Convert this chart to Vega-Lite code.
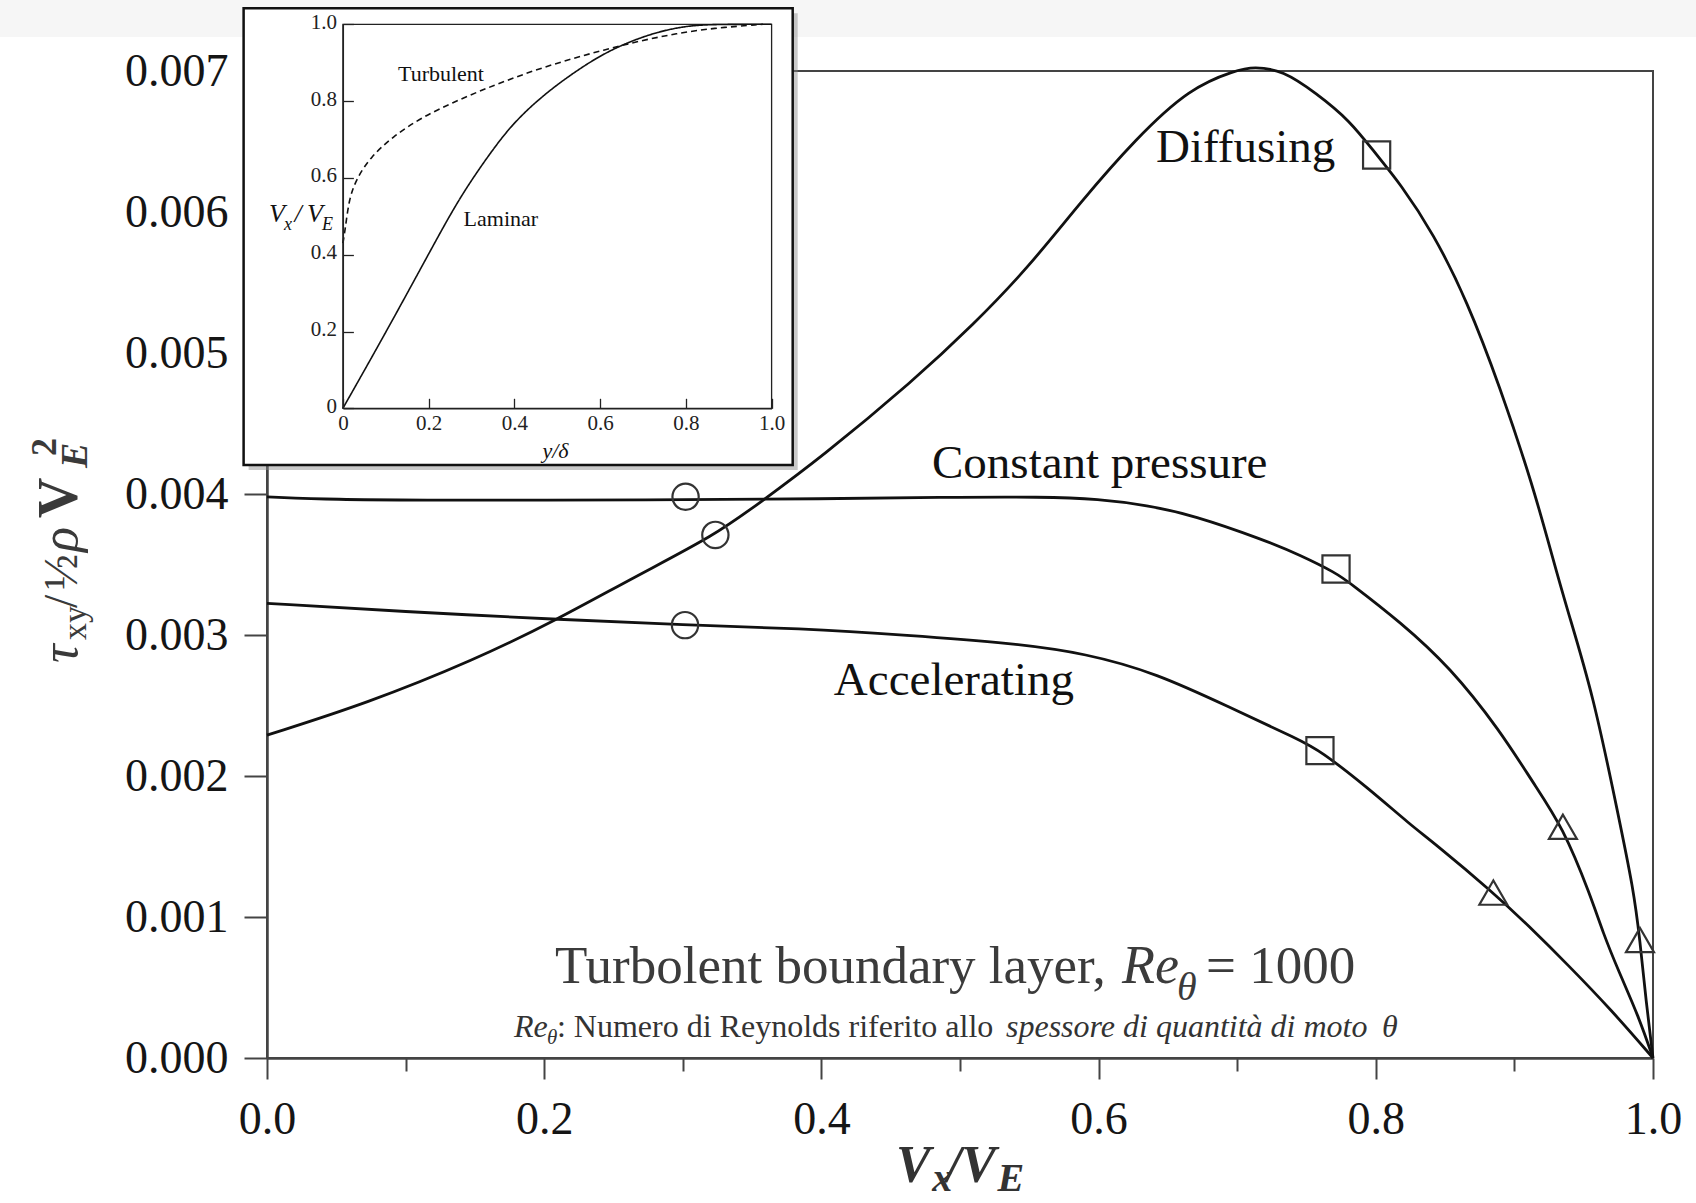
{
  "$schema": "https://vega.github.io/schema/vega-lite/v6.json",
  "width": 1386,
  "height": 987,
  "autosize": {"type": "none"},
  "padding": {"left": 267, "top": 71, "right": 43, "bottom": 145},
  "background": "white",
  "config": {
    "view": {"stroke": "#444", "strokeWidth": 2},
    "text": {"font": "Liberation Serif"},
    "axis": {"labelFont": "Liberation Serif", "grid": false, "labelFlush": false, "labelOverlap": false, "labelAngle": 0}
  },
  "datasets": {
    "curves": [
      {"s": "Constant pressure", "x": 0, "y": 0.00398},
      {"s": "Constant pressure", "x": 0.05, "y": 0.00396},
      {"s": "Constant pressure", "x": 0.111, "y": 0.003957},
      {"s": "Constant pressure", "x": 0.2, "y": 0.003955},
      {"s": "Constant pressure", "x": 0.302, "y": 0.00396},
      {"s": "Constant pressure", "x": 0.399, "y": 0.003965},
      {"s": "Constant pressure", "x": 0.4877, "y": 0.003977},
      {"s": "Constant pressure", "x": 0.56, "y": 0.00398},
      {"s": "Constant pressure", "x": 0.6, "y": 0.003965},
      {"s": "Constant pressure", "x": 0.635, "y": 0.00392},
      {"s": "Constant pressure", "x": 0.668, "y": 0.003851},
      {"s": "Constant pressure", "x": 0.7196, "y": 0.003674},
      {"s": "Constant pressure", "x": 0.7453, "y": 0.003567},
      {"s": "Constant pressure", "x": 0.7713, "y": 0.003440},
      {"s": "Constant pressure", "x": 0.7814, "y": 0.003369},
      {"s": "Constant pressure", "x": 0.8175, "y": 0.003094},
      {"s": "Constant pressure", "x": 0.8535, "y": 0.002773},
      {"s": "Constant pressure", "x": 0.8896, "y": 0.002323},
      {"s": "Constant pressure", "x": 0.9136, "y": 0.00195},
      {"s": "Constant pressure", "x": 0.935, "y": 0.001638},
      {"s": "Constant pressure", "x": 0.955, "y": 0.00115},
      {"s": "Constant pressure", "x": 0.964, "y": 0.000886},
      {"s": "Constant pressure", "x": 0.975, "y": 0.00062},
      {"s": "Constant pressure", "x": 0.9897, "y": 0.000293},
      {"s": "Constant pressure", "x": 1.0, "y": 0},
      {"s": "Accelerating", "x": 0, "y": 0.003225},
      {"s": "Accelerating", "x": 0.098, "y": 0.003166},
      {"s": "Accelerating", "x": 0.2088, "y": 0.003111},
      {"s": "Accelerating", "x": 0.3016, "y": 0.003071},
      {"s": "Accelerating", "x": 0.3846, "y": 0.003047},
      {"s": "Accelerating", "x": 0.4618, "y": 0.003},
      {"s": "Accelerating", "x": 0.539, "y": 0.002941},
      {"s": "Accelerating", "x": 0.5907, "y": 0.00287},
      {"s": "Accelerating", "x": 0.642, "y": 0.002728},
      {"s": "Accelerating", "x": 0.6938, "y": 0.002491},
      {"s": "Accelerating", "x": 0.7453, "y": 0.002255},
      {"s": "Accelerating", "x": 0.7597, "y": 0.00218},
      {"s": "Accelerating", "x": 0.7934, "y": 0.001924},
      {"s": "Accelerating", "x": 0.8254, "y": 0.00165},
      {"s": "Accelerating", "x": 0.8415, "y": 0.001530},
      {"s": "Accelerating", "x": 0.8848, "y": 0.001173},
      {"s": "Accelerating", "x": 0.91, "y": 0.00094},
      {"s": "Accelerating", "x": 0.9387, "y": 0.00066},
      {"s": "Accelerating", "x": 0.97, "y": 0.00034},
      {"s": "Accelerating", "x": 1.0, "y": 0},
      {"s": "Diffusing", "x": 0, "y": 0.00229},
      {"s": "Diffusing", "x": 0.0722, "y": 0.002516},
      {"s": "Diffusing", "x": 0.1496, "y": 0.002823},
      {"s": "Diffusing", "x": 0.2088, "y": 0.003106},
      {"s": "Diffusing", "x": 0.2655, "y": 0.003414},
      {"s": "Diffusing", "x": 0.3235, "y": 0.003709},
      {"s": "Diffusing", "x": 0.3557, "y": 0.00394},
      {"s": "Diffusing", "x": 0.399, "y": 0.004253},
      {"s": "Diffusing", "x": 0.467, "y": 0.004809},
      {"s": "Diffusing", "x": 0.5098, "y": 0.005203},
      {"s": "Diffusing", "x": 0.5488, "y": 0.005600},
      {"s": "Diffusing", "x": 0.5878, "y": 0.006080},
      {"s": "Diffusing", "x": 0.6269, "y": 0.006520},
      {"s": "Diffusing", "x": 0.6659, "y": 0.006880},
      {"s": "Diffusing", "x": 0.699, "y": 0.007005},
      {"s": "Diffusing", "x": 0.712, "y": 0.00703},
      {"s": "Diffusing", "x": 0.733, "y": 0.007005},
      {"s": "Diffusing", "x": 0.757, "y": 0.006842},
      {"s": "Diffusing", "x": 0.781, "y": 0.006652},
      {"s": "Diffusing", "x": 0.8006, "y": 0.006404},
      {"s": "Diffusing", "x": 0.8175, "y": 0.006203},
      {"s": "Diffusing", "x": 0.8415, "y": 0.005849},
      {"s": "Diffusing", "x": 0.8656, "y": 0.005376},
      {"s": "Diffusing", "x": 0.8896, "y": 0.004761},
      {"s": "Diffusing", "x": 0.9136, "y": 0.004052},
      {"s": "Diffusing", "x": 0.928, "y": 0.003532},
      {"s": "Diffusing", "x": 0.9377, "y": 0.003194},
      {"s": "Diffusing", "x": 0.957, "y": 0.002572},
      {"s": "Diffusing", "x": 0.975, "y": 0.00172},
      {"s": "Diffusing", "x": 0.9858, "y": 0.001203},
      {"s": "Diffusing", "x": 0.9906, "y": 0.000837},
      {"s": "Diffusing", "x": 0.995, "y": 0.0004},
      {"s": "Diffusing", "x": 1.0, "y": 0}
    ],
    "points": [
      {"s": "Constant pressure", "m": "circle", "x": 0.302, "y": 0.00398},
      {"s": "Constant pressure", "m": "square", "x": 0.7713, "y": 0.003468},
      {"s": "Constant pressure", "m": "triangle", "x": 0.935, "y": 0.00164},
      {"s": "Accelerating", "m": "circle", "x": 0.3016, "y": 0.00307},
      {"s": "Accelerating", "m": "square", "x": 0.7597, "y": 0.00218},
      {"s": "Accelerating", "m": "triangle", "x": 0.8848, "y": 0.001173},
      {"s": "Diffusing", "m": "circle", "x": 0.3235, "y": 0.00371},
      {"s": "Diffusing", "m": "square", "x": 0.8006, "y": 0.006404},
      {"s": "Diffusing", "m": "triangle", "x": 0.9906, "y": 0.000837}
    ],
    "profiles": [
      {"p": "Laminar", "x": 0, "y": 0},
      {"p": "Laminar", "x": 0.099, "y": 0.195},
      {"p": "Laminar", "x": 0.201, "y": 0.404},
      {"p": "Laminar", "x": 0.269, "y": 0.543},
      {"p": "Laminar", "x": 0.337, "y": 0.655},
      {"p": "Laminar", "x": 0.396, "y": 0.742},
      {"p": "Laminar", "x": 0.464, "y": 0.812},
      {"p": "Laminar", "x": 0.523, "y": 0.862},
      {"p": "Laminar", "x": 0.591, "y": 0.913},
      {"p": "Laminar", "x": 0.659, "y": 0.951},
      {"p": "Laminar", "x": 0.735, "y": 0.981},
      {"p": "Laminar", "x": 0.803, "y": 0.996},
      {"p": "Laminar", "x": 0.862, "y": 1.0},
      {"p": "Laminar", "x": 1.0, "y": 1.0},
      {"p": "Turbulent", "x": 0, "y": 0.43},
      {"p": "Turbulent", "x": 0.006, "y": 0.47},
      {"p": "Turbulent", "x": 0.014, "y": 0.543},
      {"p": "Turbulent", "x": 0.031, "y": 0.597},
      {"p": "Turbulent", "x": 0.065, "y": 0.655},
      {"p": "Turbulent", "x": 0.116, "y": 0.707},
      {"p": "Turbulent", "x": 0.184, "y": 0.758},
      {"p": "Turbulent", "x": 0.269, "y": 0.803},
      {"p": "Turbulent", "x": 0.354, "y": 0.842},
      {"p": "Turbulent", "x": 0.438, "y": 0.877},
      {"p": "Turbulent", "x": 0.523, "y": 0.907},
      {"p": "Turbulent", "x": 0.608, "y": 0.933},
      {"p": "Turbulent", "x": 0.693, "y": 0.957},
      {"p": "Turbulent", "x": 0.778, "y": 0.976},
      {"p": "Turbulent", "x": 0.862, "y": 0.99},
      {"p": "Turbulent", "x": 0.98, "y": 1.0}
    ]
  },
  "resolve": {"scale": {"x": "independent", "y": "independent"}},
  "layer": [
    {
      "data": {"values": [{}]},
      "mark": {"type": "rect", "fill": "#f6f6f6"},
      "encoding": {
        "x": {"datum": -0.25, "type": "quantitative", "scale": {"domain": [0, 1], "nice": false, "zero": false}, "axis": null},
        "x2": {"datum": 1.05},
        "y": {"datum": 0.007241, "type": "quantitative", "scale": {"domain": [0, 0.007], "nice": false, "zero": false}, "axis": null},
        "y2": {"datum": 0.0078}
      }
    },
    {
      "data": {"name": "curves"},
      "mark": {"type": "line", "interpolate": "basis", "stroke": "#111", "strokeWidth": 2.8},
      "encoding": {
        "x": {
          "field": "x", "type": "quantitative",
          "scale": {"domain": [0, 1], "nice": false, "zero": false},
          "axis": {
            "orient": "bottom", "title": null,
            "values": [0, 0.1, 0.2, 0.3, 0.4, 0.5, 0.6, 0.7, 0.8, 0.9, 1.0],
            "labelExpr": "round(datum.value*10) % 2 == 0 ? format(datum.value, '.1f') : ''",
            "tickSize": {"condition": {"test": "round(datum.value*10) % 2 == 0", "value": 21}, "value": 13},
            "labelPadding": 18, "labelFontSize": 46, "labelColor": "#151515",
            "domainColor": "#444", "domainWidth": 2.5, "tickColor": "#444", "tickWidth": 2
          }
        },
        "y": {
          "field": "y", "type": "quantitative",
          "scale": {"domain": [0, 0.007], "nice": false, "zero": false},
          "axis": {
            "orient": "left", "title": null,
            "values": [0, 0.001, 0.002, 0.003, 0.004, 0.005, 0.006, 0.007],
            "format": ".3f", "tickSize": 23, "labelPadding": 16,
            "labelFontSize": 46, "labelColor": "#151515",
            "domainColor": "#444", "domainWidth": 2.5, "tickColor": "#444", "tickWidth": 2
          }
        },
        "detail": {"field": "s"}
      }
    },
    {
      "data": {"name": "points"},
      "mark": {"type": "point", "filled": false, "stroke": "#333", "strokeWidth": 2.2, "opacity": 1},
      "encoding": {
        "x": {"field": "x", "type": "quantitative", "scale": {"domain": [0, 1], "nice": false, "zero": false}, "axis": null},
        "y": {"field": "y", "type": "quantitative", "scale": {"domain": [0, 0.007], "nice": false, "zero": false}, "axis": null},
        "shape": {"field": "m", "type": "nominal", "scale": {"domain": ["circle", "square", "triangle"], "range": ["circle", "square", "triangle-up"]}, "legend": null},
        "size": {"field": "m", "type": "nominal", "scale": {"domain": ["circle", "square", "triangle"], "range": [690, 784, 800]}, "legend": null}
      }
    },
    {
      "data": {"values": [
        {"x": 0.6414, "y": 0.006355, "t": "Diffusing"},
        {"x": 0.4798, "y": 0.004113, "t": "Constant pressure"},
        {"x": 0.409, "y": 0.002574, "t": "Accelerating"}
      ]},
      "mark": {"type": "text", "align": "left", "baseline": "alphabetic", "fontSize": 47, "fill": "#111"},
      "encoding": {
        "x": {"field": "x", "type": "quantitative", "scale": {"domain": [0, 1], "nice": false, "zero": false}, "axis": null},
        "y": {"field": "y", "type": "quantitative", "scale": {"domain": [0, 0.007], "nice": false, "zero": false}, "axis": null},
        "text": {"field": "t"}
      }
    },
    {
      "data": {"values": [
        {"x": 0.2078, "y": 0.00053, "t": "Turbolent boundary layer,"},
        {"x": 0.6775, "y": 0.00053, "t": "= 1000"}
      ]},
      "mark": {"type": "text", "align": "left", "baseline": "alphabetic", "fontSize": 53, "fill": "#3b3b3b"},
      "encoding": {
        "x": {"field": "x", "type": "quantitative", "scale": {"domain": [0, 1], "nice": false, "zero": false}, "axis": null},
        "y": {"field": "y", "type": "quantitative", "scale": {"domain": [0, 0.007], "nice": false, "zero": false}, "axis": null},
        "text": {"field": "t"}
      }
    },
    {
      "data": {"values": [{"x": 0.6169, "y": 0.00053, "t": "Re"}]},
      "mark": {"type": "text", "align": "left", "baseline": "alphabetic", "fontSize": 54, "fontStyle": "italic", "fill": "#3b3b3b"},
      "encoding": {
        "x": {"field": "x", "type": "quantitative", "scale": {"domain": [0, 1], "nice": false, "zero": false}, "axis": null},
        "y": {"field": "y", "type": "quantitative", "scale": {"domain": [0, 0.007], "nice": false, "zero": false}, "axis": null},
        "text": {"field": "t"}
      }
    },
    {
      "data": {"values": [{"x": 0.6566, "y": 0.00041, "t": "θ"}]},
      "mark": {"type": "text", "align": "left", "baseline": "alphabetic", "fontSize": 40, "fontStyle": "italic", "fill": "#3b3b3b"},
      "encoding": {
        "x": {"field": "x", "type": "quantitative", "scale": {"domain": [0, 1], "nice": false, "zero": false}, "axis": null},
        "y": {"field": "y", "type": "quantitative", "scale": {"domain": [0, 0.007], "nice": false, "zero": false}, "axis": null},
        "text": {"field": "t"}
      }
    },
    {
      "data": {"values": [{"x": 0.2092, "y": 0.000149, "t": ": Numero di Reynolds riferito allo"}]},
      "mark": {"type": "text", "align": "left", "baseline": "alphabetic", "fontSize": 32, "fill": "#333"},
      "encoding": {
        "x": {"field": "x", "type": "quantitative", "scale": {"domain": [0, 1], "nice": false, "zero": false}, "axis": null},
        "y": {"field": "y", "type": "quantitative", "scale": {"domain": [0, 0.007], "nice": false, "zero": false}, "axis": null},
        "text": {"field": "t"}
      }
    },
    {
      "data": {"values": [
        {"x": 0.1782, "y": 0.000149, "t": "Re"},
        {"x": 0.5332, "y": 0.000149, "t": "spessore di quantità di moto"},
        {"x": 0.8045, "y": 0.000149, "t": "θ"}
      ]},
      "mark": {"type": "text", "align": "left", "baseline": "alphabetic", "fontSize": 32, "fontStyle": "italic", "fill": "#333"},
      "encoding": {
        "x": {"field": "x", "type": "quantitative", "scale": {"domain": [0, 1], "nice": false, "zero": false}, "axis": null},
        "y": {"field": "y", "type": "quantitative", "scale": {"domain": [0, 0.007], "nice": false, "zero": false}, "axis": null},
        "text": {"field": "t"}
      }
    },
    {
      "data": {"values": [{"x": 0.202, "y": 0.0000993, "t": "θ"}]},
      "mark": {"type": "text", "align": "left", "baseline": "alphabetic", "fontSize": 21, "fontStyle": "italic", "fill": "#333"},
      "encoding": {
        "x": {"field": "x", "type": "quantitative", "scale": {"domain": [0, 1], "nice": false, "zero": false}, "axis": null},
        "y": {"field": "y", "type": "quantitative", "scale": {"domain": [0, 0.007], "nice": false, "zero": false}, "axis": null},
        "text": {"field": "t"}
      }
    },
    {
      "data": {"values": [
        {"x": 0.4538, "y": -0.00088, "t": "V"},
        {"x": 0.4905, "y": -0.00088, "t": "/V"}
      ]},
      "mark": {"type": "text", "align": "left", "baseline": "alphabetic", "fontSize": 52, "fontStyle": "italic", "fontWeight": "bold", "fill": "#333"},
      "encoding": {
        "x": {"field": "x", "type": "quantitative", "scale": {"domain": [0, 1], "nice": false, "zero": false}, "axis": null},
        "y": {"field": "y", "type": "quantitative", "scale": {"domain": [0, 0.007], "nice": false, "zero": false}, "axis": null},
        "text": {"field": "t"}
      }
    },
    {
      "data": {"values": [
        {"x": 0.4800, "y": -0.00094, "t": "x"},
        {"x": 0.5270, "y": -0.00094, "t": "E"}
      ]},
      "mark": {"type": "text", "align": "left", "baseline": "alphabetic", "fontSize": 40, "fontStyle": "italic", "fontWeight": "bold", "fill": "#333"},
      "encoding": {
        "x": {"field": "x", "type": "quantitative", "scale": {"domain": [0, 1], "nice": false, "zero": false}, "axis": null},
        "y": {"field": "y", "type": "quantitative", "scale": {"domain": [0, 0.007], "nice": false, "zero": false}, "axis": null},
        "text": {"field": "t"}
      }
    },
    {
      "data": {"values": [
        {"x": -0.1371, "y": 0.0028013, "t": "τ"},
        {"x": -0.1371, "y": 0.003589, "t": "ρ"}
      ]},
      "mark": {"type": "text", "angle": 270, "align": "left", "baseline": "alphabetic", "fontSize": 52, "fontStyle": "italic", "fill": "#3a3a3a"},
      "encoding": {
        "x": {"field": "x", "type": "quantitative", "scale": {"domain": [0, 1], "nice": false, "zero": false}, "axis": null},
        "y": {"field": "y", "type": "quantitative", "scale": {"domain": [0, 0.007], "nice": false, "zero": false}, "axis": null},
        "text": {"field": "t"}
      }
    },
    {
      "data": {"values": [
        {"x": -0.1371, "y": 0.003191, "t": "/"},
        {"x": -0.1371, "y": 0.003319, "t": "½"}
      ]},
      "mark": {"type": "text", "angle": 270, "align": "left", "baseline": "alphabetic", "fontSize": 48, "fill": "#3a3a3a"},
      "encoding": {
        "x": {"field": "x", "type": "quantitative", "scale": {"domain": [0, 1], "nice": false, "zero": false}, "axis": null},
        "y": {"field": "y", "type": "quantitative", "scale": {"domain": [0, 0.007], "nice": false, "zero": false}, "axis": null},
        "text": {"field": "t"}
      }
    },
    {
      "data": {"values": [{"x": -0.1306, "y": 0.002965, "t": "xy"}]},
      "mark": {"type": "text", "angle": 270, "align": "left", "baseline": "alphabetic", "fontSize": 34, "fill": "#3a3a3a"},
      "encoding": {
        "x": {"field": "x", "type": "quantitative", "scale": {"domain": [0, 1], "nice": false, "zero": false}, "axis": null},
        "y": {"field": "y", "type": "quantitative", "scale": {"domain": [0, 0.007], "nice": false, "zero": false}, "axis": null},
        "text": {"field": "t"}
      }
    },
    {
      "data": {"values": [{"x": -0.1371, "y": 0.003830, "t": "V"}]},
      "mark": {"type": "text", "angle": 270, "align": "left", "baseline": "alphabetic", "fontSize": 56, "fontWeight": "bold", "fill": "#3a3a3a"},
      "encoding": {
        "x": {"field": "x", "type": "quantitative", "scale": {"domain": [0, 1], "nice": false, "zero": false}, "axis": null},
        "y": {"field": "y", "type": "quantitative", "scale": {"domain": [0, 0.007], "nice": false, "zero": false}, "axis": null},
        "text": {"field": "t"}
      }
    },
    {
      "data": {"values": [{"x": -0.1299, "y": 0.004184, "t": "E"}]},
      "mark": {"type": "text", "angle": 270, "align": "left", "baseline": "alphabetic", "fontSize": 38, "fontStyle": "italic", "fontWeight": "bold", "fill": "#3a3a3a"},
      "encoding": {
        "x": {"field": "x", "type": "quantitative", "scale": {"domain": [0, 1], "nice": false, "zero": false}, "axis": null},
        "y": {"field": "y", "type": "quantitative", "scale": {"domain": [0, 0.007], "nice": false, "zero": false}, "axis": null},
        "text": {"field": "t"}
      }
    },
    {
      "data": {"values": [{"x": -0.1522, "y": 0.004270, "t": "2"}]},
      "mark": {"type": "text", "angle": 270, "align": "left", "baseline": "alphabetic", "fontSize": 36, "fontWeight": "bold", "fill": "#3a3a3a"},
      "encoding": {
        "x": {"field": "x", "type": "quantitative", "scale": {"domain": [0, 1], "nice": false, "zero": false}, "axis": null},
        "y": {"field": "y", "type": "quantitative", "scale": {"domain": [0, 0.007], "nice": false, "zero": false}, "axis": null},
        "text": {"field": "t"}
      }
    },
    {
      "data": {"values": [{}]},
      "mark": {"type": "rect", "fill": "#888", "opacity": 0.45, "xOffset": 5, "x2Offset": 5, "yOffset": 5, "y2Offset": 5},
      "encoding": {
        "x": {"datum": -0.2316, "type": "quantitative", "scale": {"domain": [0, 1], "nice": false, "zero": false, "range": [75.9, 504.6]}, "axis": null},
        "x2": {"datum": 1.0492},
        "y": {"datum": -0.1477, "type": "quantitative", "scale": {"domain": [0, 1], "nice": false, "zero": false, "range": [337.3, -46.7]}, "axis": null},
        "y2": {"datum": 1.0417}
      }
    },
    {
      "data": {"values": [{}]},
      "mark": {"type": "rect", "fill": "white", "stroke": "#111", "strokeWidth": 2.5},
      "encoding": {
        "x": {"datum": -0.2316, "type": "quantitative", "scale": {"domain": [0, 1], "nice": false, "zero": false, "range": [75.9, 504.6]}, "axis": null},
        "x2": {"datum": 1.0492},
        "y": {"datum": -0.1477, "type": "quantitative", "scale": {"domain": [0, 1], "nice": false, "zero": false, "range": [337.3, -46.7]}, "axis": null},
        "y2": {"datum": 1.0417}
      }
    },
    {
      "data": {"values": [{}]},
      "mark": {"type": "rect", "fill": "transparent", "stroke": "#222", "strokeWidth": 1.3},
      "encoding": {
        "x": {"datum": 0, "type": "quantitative", "scale": {"domain": [0, 1], "nice": false, "zero": false, "range": [75.9, 504.6]}, "axis": null},
        "x2": {"datum": 1},
        "y": {"datum": 0, "type": "quantitative", "scale": {"domain": [0, 1], "nice": false, "zero": false, "range": [337.3, -46.7]}, "axis": null},
        "y2": {"datum": 1}
      }
    },
    {
      "data": {"name": "profiles"},
      "mark": {"type": "line", "interpolate": "basis", "stroke": "#111", "strokeWidth": 1.6},
      "encoding": {
        "x": {
          "field": "x", "type": "quantitative",
          "scale": {"domain": [0, 1], "nice": false, "zero": false, "range": [75.9, 504.6]},
          "axis": {
            "orient": "bottom", "offset": -649.7, "title": null, "zindex": 1,
            "values": [0, 0.2, 0.4, 0.6, 0.8, 1.0],
            "labelExpr": "datum.value == 0 ? '0' : format(datum.value, '.1f')",
            "tickSize": -10, "labelPadding": 14, "labelFontSize": 21, "labelColor": "#222",
            "domainColor": "#222", "domainWidth": 1.3, "tickColor": "#222", "tickWidth": 1.3
          }
        },
        "y": {
          "field": "y", "type": "quantitative",
          "scale": {"domain": [0, 1], "nice": false, "zero": false, "range": [337.3, -46.7]},
          "axis": {
            "orient": "left", "offset": -75.9, "title": null, "zindex": 1,
            "values": [0, 0.2, 0.4, 0.6, 0.8, 1.0],
            "labelExpr": "datum.value == 0 ? '0' : format(datum.value, '.1f')",
            "tickSize": -10.5, "labelPadding": 17, "labelOffset": -2, "labelFontSize": 21, "labelColor": "#222",
            "labelBaseline": "middle",
            "domainColor": "#222", "domainWidth": 1.3, "tickColor": "#222", "tickWidth": 1.3
          }
        },
        "strokeDash": {"field": "p", "type": "nominal", "scale": {"domain": ["Laminar", "Turbulent"], "range": [[1, 0], [6, 4]]}, "legend": null}
      }
    },
    {
      "data": {"values": [
        {"x": 0.1285, "y": 0.852, "t": "Turbulent"},
        {"x": 0.2815, "y": 0.4747, "t": "Laminar"}
      ]},
      "mark": {"type": "text", "align": "left", "baseline": "alphabetic", "fontSize": 22, "fill": "#111"},
      "encoding": {
        "x": {"field": "x", "type": "quantitative", "scale": {"domain": [0, 1], "nice": false, "zero": false, "range": [75.9, 504.6]}, "axis": null},
        "y": {"field": "y", "type": "quantitative", "scale": {"domain": [0, 1], "nice": false, "zero": false, "range": [337.3, -46.7]}, "axis": null},
        "text": {"field": "t"}
      }
    },
    {
      "data": {"values": [
        {"x": -0.1724, "y": 0.485, "t": "V"},
        {"x": -0.1129, "y": 0.485, "t": "/"},
        {"x": -0.0838, "y": 0.485, "t": "V"}
      ]},
      "mark": {"type": "text", "align": "left", "baseline": "alphabetic", "fontSize": 26, "fontStyle": "italic", "fill": "#111"},
      "encoding": {
        "x": {"field": "x", "type": "quantitative", "scale": {"domain": [0, 1], "nice": false, "zero": false, "range": [75.9, 504.6]}, "axis": null},
        "y": {"field": "y", "type": "quantitative", "scale": {"domain": [0, 1], "nice": false, "zero": false, "range": [337.3, -46.7]}, "axis": null},
        "text": {"field": "t"}
      }
    },
    {
      "data": {"values": [
        {"x": -0.1374, "y": 0.4643, "t": "x"},
        {"x": -0.0488, "y": 0.4643, "t": "E"}
      ]},
      "mark": {"type": "text", "align": "left", "baseline": "alphabetic", "fontSize": 18, "fontStyle": "italic", "fill": "#111"},
      "encoding": {
        "x": {"field": "x", "type": "quantitative", "scale": {"domain": [0, 1], "nice": false, "zero": false, "range": [75.9, 504.6]}, "axis": null},
        "y": {"field": "y", "type": "quantitative", "scale": {"domain": [0, 1], "nice": false, "zero": false, "range": [337.3, -46.7]}, "axis": null},
        "text": {"field": "t"}
      }
    },
    {
      "data": {"values": [{"x": 0.496, "y": -0.1294, "t": "y/δ"}]},
      "mark": {"type": "text", "align": "center", "baseline": "alphabetic", "fontSize": 22, "fontStyle": "italic", "fill": "#111"},
      "encoding": {
        "x": {"field": "x", "type": "quantitative", "scale": {"domain": [0, 1], "nice": false, "zero": false, "range": [75.9, 504.6]}, "axis": null},
        "y": {"field": "y", "type": "quantitative", "scale": {"domain": [0, 1], "nice": false, "zero": false, "range": [337.3, -46.7]}, "axis": null},
        "text": {"field": "t"}
      }
    }
  ]
}
